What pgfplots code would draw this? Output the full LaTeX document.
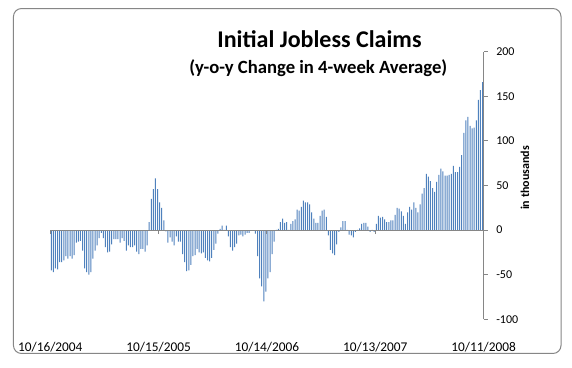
\documentclass[border=0pt]{standalone}
\usepackage{fontspec}
\setmainfont{Carlito}
\usepackage{pgfplots}
\usepackage{pgfplotstable}
\pgfplotsset{compat=1.18}
\definecolor{barblue}{RGB}{79,129,189}
\definecolor{axgrey}{RGB}{134,134,134}
\pgfplotstableread{
v
-45
-47
-43
-44
-36
-36
-34
-29
-32
-29
-32
-28
-14
-13
-12
-23
-43
-47
-50
-47
-32
-23
-17
-9
-3
-9
-19
-25
-24
-16
-10
-10
-10
-14
-9
-12
-23
-17
-19
-19
-17
-24
-27
-21
-21
-24
-17
9
35
46
58
46
31
25
11
-1.5
-14
-8
-13
-17
-7
-13
-13
-27
-36
-46
-45
-39
-29
-28
-21
-25
-26
-25
-31
-34
-35
-31
-22
-15
-4
1.5
5
0.3
5
-7
-19
-23
-19
-15
-6
-5
-7
-5
-3
-3
-0.5
-0.5
-4
-29
-54
-63
-80
-69
-54
-47
-27
-13
0.3
1.5
9
13
8
9
0.3
7
10
12
23
22
26
33
31
31
29
20
13
8
8
16
22
23
15
-6
-22
-26
-28
-16
-2
3
10
10
0.3
-5
-6
-8
-2
0.3
2
7
8
8
4
-2
0.3
-2
7
16
14
15
12
9
9
11
11
17
25
24
21
16
7
20
26
23
31
25
20
29
41
47
63
60
55
47
43
54
62
69
66
61
61
62
63
72
65
65
71
84
109
123
127
117
114
115
123
146
157
166
}\claims
\begin{document}
\begin{tikzpicture}[x=1pt,y=1pt]
\path[use as bounding box] (0,0) rectangle (429,276);
\fill[white] (0,0) rectangle (429,276);
\draw[axgrey, line width=0.75pt, rounded corners=6pt] (10.1,10.9) rectangle (420.75,269.6);
\begin{axis}[
  at={(37.7pt,36.5pt)}, anchor=south west,
  scale only axis, width=325pt, height=200.7pt,
  xmin=0, xmax=208, ymin=-100, ymax=200,
  axis x line*=middle, axis y line*=right,
  axis line style={axgrey, line width=0.75pt},
  every tick/.style={axgrey, line width=0.75pt},
  hide obscured x ticks=false, hide obscured y ticks=false,
  axis on top,
  xtick={0,52,104,156,208},
  xticklabels={10/16/2004,10/15/2005,10/14/2006,10/13/2007,10/11/2008},
  xticklabel style={font=\fontsize{10}{12}\selectfont, anchor=center, yshift=-84.9pt},
  ytick={-100,-50,0,50,100,150,200},
  yticklabel style={font=\fontsize{9}{11}\selectfont, anchor=west, xshift=3pt},
  /pgf/number format/assume math mode=true,
  tick align=outside,
  major tick length=3pt,
  ybar, bar width=0.5,
]
\addplot[fill=barblue, draw=none] table[x expr=\coordindex+0.5, y=v] {\claims};
\end{axis}
\node[anchor=base, font=\fontsize{18}{22}\selectfont\bfseries] at (239.6,240) {Initial Jobless Claims};
\node[anchor=base, font=\fontsize{14}{17}\selectfont\bfseries] at (238.7,221) {(y-o-y Change in 4-week Average)};
\node[rotate=90, font=\fontsize{9}{11}\selectfont\bfseries] at (393.75,142.5) {in thousands};
\end{tikzpicture}
\end{document}
